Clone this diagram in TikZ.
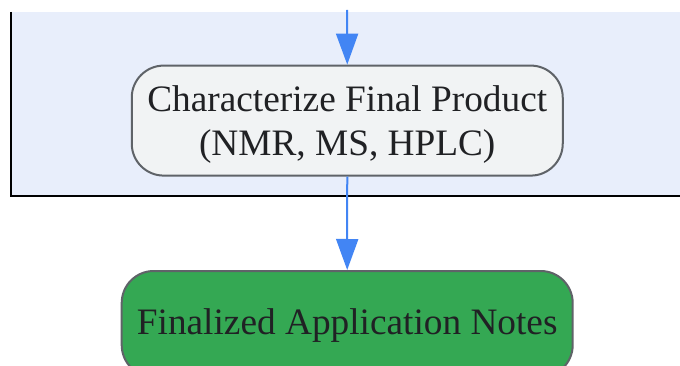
\documentclass[tikz,border=0pt]{standalone}
\usepackage{fontspec}
\setmainfont{Liberation Serif}
\usetikzlibrary{arrows.meta}
\definecolor{clusterfill}{HTML}{E8EEFB}
\definecolor{procfill}{HTML}{F1F3F4}
\definecolor{endfill}{HTML}{34A853}
\definecolor{nodeborder}{HTML}{5F6368}
\definecolor{flowblue}{HTML}{4285F4}
\definecolor{txt}{HTML}{202124}
\tikzset{
  procbox/.style={draw=nodeborder, line width=2pt, fill=procfill, rounded corners=32pt,
    minimum width=431pt, minimum height=110pt, align=center, text=txt,
    font=\fontsize{37.3}{44}\selectfont, inner sep=0pt},
  endbox/.style={procbox, fill=endfill, minimum width=451pt, minimum height=106pt},
  flow/.style={draw=flowblue, line width=2pt, -{Triangle[length=31pt,width=22pt]}}
}
\begin{document}
\begin{tikzpicture}[x=1pt,y=-1pt]
\useasboundingbox (0,0) rectangle (680,366);
\fill[white] (0,0) rectangle (680,366);
% cluster
\fill[clusterfill] (10,12) rectangle (690,196);
\draw[black, line width=2.5pt] (11,12) -- (11,196) -- (690,196);
\coordinate (in) at (347,10);
\node[procbox] (char) at (347.25,120.6) {\rule{0pt}{34pt}Characterize Final Product\\(NMR, MS, HPLC)};
\node[endbox] (final) at (347.2,324) {\rule{0pt}{29.5pt}Finalized Application Notes};
\draw[flow] (in) -- (char.north);
\draw[flow] (char.south) -- (final.north);
\end{tikzpicture}
\end{document}
